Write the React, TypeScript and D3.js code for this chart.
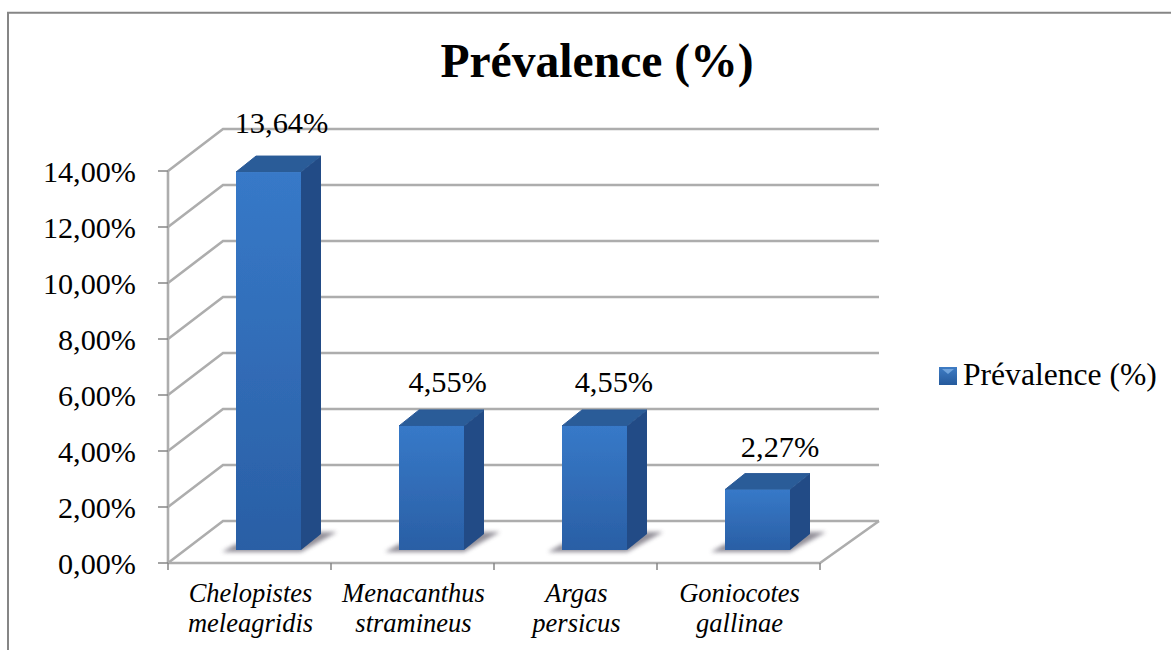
import { useEffect, useRef } from "react";
import * as d3 from "d3";

const categories = [
  ["Chelopistes", "meleagridis"],
  ["Menacanthus", "stramineus"],
  ["Argas", "persicus"],
  ["Goniocotes", "gallinae"],
];
const values = [13.64, 4.55, 4.55, 2.27];
const valueLabels = ["13,64%", "4,55%", "4,55%", "2,27%"];
const yTicks = [0, 2, 4, 6, 8, 10, 12, 14];
const yTickLabels = ["0,00%", "2,00%", "4,00%", "6,00%", "8,00%", "10,00%", "12,00%", "14,00%"];
const seriesName = "Prévalence (%)";

export default function App() {
  const svgRef = useRef<SVGSVGElement | null>(null);

  useEffect(() => {
    if (!svgRef.current) return;
    const svg = d3.select(svgRef.current);
    svg.selectAll("*").remove();

    const width = 1171;
    const height = 650;
    const serif = "'Liberation Serif', serif";
    const grey = "#adadad";
    const wall = { dx: 55, dy: -42 };
    const barDepth = { dx: 20, dy: -16 };

    svg.attr("width", width).attr("height", height)
      .style("position", "absolute").style("left", 0).style("top", 0)
      .style("background", "#fff");

    const defs = svg.append("defs");
    const front = defs.append("linearGradient").attr("id", "front").attr("x1", 0).attr("y1", 0).attr("x2", 0).attr("y2", 1);
    front.append("stop").attr("offset", "0%").attr("stop-color", "#3779c8");
    front.append("stop").attr("offset", "100%").attr("stop-color", "#2a5fa5");
    const legendFill = defs.append("linearGradient").attr("id", "legendFill").attr("x1", 0).attr("y1", 0).attr("x2", 0).attr("y2", 1);
    legendFill.append("stop").attr("offset", "0%").attr("stop-color", "#3f7cc4");
    legendFill.append("stop").attr("offset", "100%").attr("stop-color", "#255a9c");
    defs.append("filter").attr("id", "soft").attr("x", "-30%").attr("y", "-60%").attr("width", "160%").attr("height", "220%")
      .append("feGaussianBlur").attr("stdDeviation", 2.2);
    defs.append("filter").attr("id", "edge")
      .append("feGaussianBlur").attr("stdDeviation", 0.6);
    defs.append("filter").attr("id", "lineBlur").attr("filterUnits", "userSpaceOnUse")
      .attr("x", 0).attr("y", 0).attr("width", width).attr("height", height)
      .append("feGaussianBlur").attr("stdDeviation", 0.5);

    // Scales
    const xScale = d3.scaleBand<number>().domain(d3.range(categories.length)).range([168, 820]);
    const yScale = d3.scaleLinear().domain([0, 14]).range([563, 171]);
    const barY = d3.scaleLinear().domain([0, 14]).range([553, 162]);
    const labelY = d3.scaleLinear().domain([0, 14]).range([522, 122.6]);
    const barBase = 550;
    const barWidth = 65;
    const barX = (i: number) => (xScale(i) as number) + 68;

    // Chart border
    svg.append("path").attr("d", `M8,650V12.7H${width}`).attr("fill", "none").attr("stroke", "#868686").attr("stroke-width", 2);

    // Title
    svg.append("text").attr("x", 597).attr("y", 77).attr("text-anchor", "middle")
      .attr("font-family", serif).attr("font-weight", "bold").attr("font-size", 47.6).attr("fill", "#000").text(seriesName);

    // Walls and floor
    const grid = svg.append("g").attr("fill", "none").attr("stroke", grey).attr("stroke-width", 2.6).attr("filter", "url(#lineBlur)");
    yTicks.forEach((t) => {
      const y = yScale(t);
      grid.append("path").attr("d", `M168,${y}L${168 + wall.dx},${y + wall.dy}H879`);
    });
    grid.append("path").attr("d", `M168,${yScale(0)}H820L879,${yScale(0) + wall.dy}`);
    grid.append("path").attr("d", `M168,${yScale(14)}V${yScale(0)}`);

    // Y axis ticks and labels
    const yAxis = svg.append("g");
    yTicks.forEach((t, i) => {
      const y = yScale(t);
      yAxis.append("line").attr("x1", 158).attr("x2", 168).attr("y1", y).attr("y2", y).attr("stroke", "#868686").attr("stroke-width", 1.5);
      yAxis.append("text").attr("x", 136).attr("y", y + 11).attr("text-anchor", "end")
        .attr("font-family", serif).attr("font-size", 30.2).attr("fill", "#000").text(yTickLabels[i]);
    });

    // X axis ticks and labels
    const xAxis = svg.append("g");
    d3.range(categories.length + 1).forEach((i) => {
      const x = 168 + i * xScale.step();
      xAxis.append("line").attr("x1", x).attr("x2", x).attr("y1", 563).attr("y2", 570).attr("stroke", "#868686").attr("stroke-width", 1.5);
    });
    categories.forEach((lines, i) => {
      const cx = (xScale(i) as number) + xScale.bandwidth() / 2;
      lines.forEach((line, k) => {
        xAxis.append("text").attr("x", cx + 1).attr("y", 602 + k * 30).attr("text-anchor", "middle")
          .attr("font-family", serif).attr("font-style", "italic").attr("font-size", 26.5).attr("fill", "#000").text(line);
      });
    });

    // Bars
    const bars = svg.append("g").selectAll("g").data(values).enter().append("g");
    bars.append("path")
      .attr("d", (_, i) => {
        const x = barX(i);
        return `M${x - 14},552H${x + barWidth}L${x + barWidth + 36},532H${x + barWidth + 16}L${x},544Z`;
      })
      .attr("fill", "#77737f").attr("opacity", 0.8).attr("filter", "url(#soft)");
    const solid = bars.append("g").attr("filter", "url(#edge)");
    solid.append("path")
      .attr("d", (d, i) => {
        const x = barX(i);
        const top = barY(d);
        return `M${x},${top}L${x + barDepth.dx},${top + barDepth.dy}H${x + barWidth + barDepth.dx}L${x + barWidth},${top}Z`;
      })
      .attr("fill", "#2b5b98").attr("stroke", "#2b5b98").attr("stroke-linejoin", "round");
    solid.append("path")
      .attr("d", (d, i) => {
        const x = barX(i) + barWidth;
        return `M${x},${barY(d)}L${x + barDepth.dx},${barY(d) + barDepth.dy}V${barBase + barDepth.dy}L${x},${barBase}Z`;
      })
      .attr("fill", "#224c86");
    solid.append("rect")
      .attr("x", (_, i) => barX(i))
      .attr("y", (d) => barY(d))
      .attr("width", barWidth)
      .attr("height", (d) => barBase - barY(d))
      .attr("fill", "url(#front)");

    // Value labels
    bars.append("text")
      .attr("x", (_, i) => barX(i) + barWidth / 2 + 13 + 3.2 * i)
      .attr("y", (d) => labelY(d))
      .attr("text-anchor", "middle")
      .attr("font-family", serif).attr("font-size", 30.4).attr("fill", "#000")
      .text((_, i) => valueLabels[i]);

    // Legend
    svg.append("rect").attr("x", 939).attr("y", 367).attr("width", 18).attr("height", 18).attr("fill", "url(#legendFill)");
    svg.append("path").attr("d", "M942,369H954L948,374Z").attr("fill", "#6fa3dc").attr("filter", "url(#edge)");
    svg.append("text").attr("x", 963).attr("y", 385)
      .attr("font-family", serif).attr("font-size", 31.6).attr("fill", "#000").text(seriesName);
  }, []);

  return <svg ref={svgRef}></svg>;
}
